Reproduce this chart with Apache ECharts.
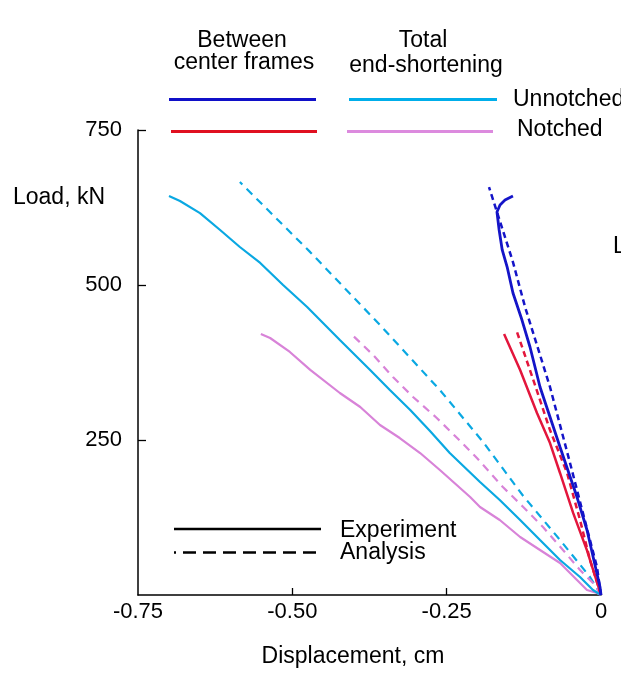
<!DOCTYPE html>
<html>
<head>
<meta charset="utf-8">
<script src="https://cdn.jsdelivr.net/npm/echarts@6/dist/echarts.min.js"></script>
<style>
  html, body { margin: 0; padding: 0; background: #fff; }
  #chart { width: 621px; height: 673px; }
</style>
</head>
<body>
<div id="chart"></div>
<script>
// displacement (cm), load (kN) pairs
const centerUnnotchedExp = [
  [0, 0], [-0.0016, 13], [-0.0227, 104.8], [-0.0389, 158], [-0.0664, 238.7],
  [-0.0988, 335.5], [-0.115, 400], [-0.128, 443.5], [-0.1426, 487], [-0.152, 529],
  [-0.160, 556.5], [-0.165, 588.7], [-0.1685, 617.7], [-0.1636, 629], [-0.1555, 637],
  [-0.1426, 643.5]
];
const centerUnnotchedAna = [
  [0, 0], [-0.0065, 45], [-0.0292, 132], [-0.0502, 213], [-0.0826, 335.5],
  [-0.123, 464.5], [-0.1426, 537], [-0.1814, 658]
];
const centerNotchedExp = [
  [0, 0], [-0.0227, 72], [-0.045, 132], [-0.0664, 196.8], [-0.0826, 245],
  [-0.1037, 293.5], [-0.131, 363], [-0.157, 421]
];
const centerNotchedAna = [
  [0, 0], [-0.0178, 56.5], [-0.034, 121], [-0.055, 197], [-0.0826, 266],
  [-0.107, 339], [-0.136, 424]
];
const totalUnnotchedExp = [
  [0, 0], [-0.013, 8], [-0.034, 29], [-0.0664, 56.5], [-0.0988, 88.7], [-0.131, 121],
  [-0.164, 153.2], [-0.196, 182.3], [-0.245, 229], [-0.277, 264.5], [-0.309, 298.4],
  [-0.342, 330.6], [-0.374, 362.9], [-0.423, 411.3], [-0.476, 464.5], [-0.515, 500],
  [-0.552, 535.5], [-0.585, 561.3], [-0.617, 588.7], [-0.6496, 616], [-0.682, 635.5],
  [-0.6998, 643.5]
];
const totalUnnotchedAna = [
  [0, 0], [-0.0178, 29], [-0.0664, 88.7], [-0.126, 159.7], [-0.191, 246.8],
  [-0.261, 330.6], [-0.358, 435.5], [-0.471, 553], [-0.585, 666]
];
const totalNotchedExp = [
  [0, 0], [-0.0065, 3.2], [-0.0227, 8], [-0.0389, 24.2], [-0.0664, 51.6], [-0.0988, 72.6],
  [-0.131, 93.5], [-0.164, 121], [-0.196, 142], [-0.212, 158], [-0.261, 201.6],
  [-0.293, 229], [-0.326, 253.2], [-0.358, 274.2], [-0.390, 303.2], [-0.423, 325.8],
  [-0.471, 363], [-0.504, 392], [-0.536, 414.5], [-0.551, 421]
];
const totalNotchedAna = [
  [0, 0], [-0.013, 19.4], [-0.034, 40.3], [-0.0616, 72.6], [-0.094, 109.7], [-0.126, 142],
  [-0.159, 174.2], [-0.201, 221], [-0.233, 253.2], [-0.266, 285.5], [-0.3045, 319.4],
  [-0.337, 351.6], [-0.369, 387], [-0.403, 419.4]
];
const xTicks = [-0.75, -0.5, -0.25, 0];
const yTicks = [250, 500, 750];

const BLUE = '#1414c8';
const CYAN = '#0aa8e2';
const RED = '#e3163c';
const ORCHID = '#d883d8';
const FONT = 'Liberation Sans, Arial, sans-serif';

const chart = echarts.init(document.getElementById('chart'));

function line(name, data, color, width, dash) {
  return {
    name: name,
    type: 'line',
    data: data,
    showSymbol: false,
    silent: true,
    lineStyle: { color: color, width: width, type: dash || 'solid' }
  };
}

function txt(text, x, y, align) {
  return {
    type: 'text', x: x, y: y,
    style: { text: text, font: '23px ' + FONT, fill: '#000', align: align || 'left', verticalAlign: 'middle' }
  };
}

function swatch(x1, x2, y, color, width, dash, offset) {
  return {
    type: 'line',
    shape: { x1: x1, y1: y, x2: x2, y2: y },
    style: { stroke: color, lineWidth: width, lineDash: dash || null, lineDashOffset: offset || 0 }
  };
}

chart.setOption({
  animation: false,
  grid: { left: 138, right: 20, top: 130, bottom: 78 },
  xAxis: {
    type: 'value',
    min: -0.75,
    max: 0,
    interval: 0.25,
    splitLine: { show: false },
    axisLine: { onZero: false, lineStyle: { color: '#000', width: 1.5 } },
    axisTick: { inside: true, length: 7, customValues: [-0.5, -0.25], lineStyle: { color: '#000', width: 1.3 } },
    axisLabel: {
      customValues: xTicks,
      margin: 6,
      color: '#000',
      fontSize: 22,
      fontFamily: FONT,
      formatter: function (v) { return v === 0 ? '0' : v.toFixed(2); }
    }
  },
  yAxis: {
    type: 'value',
    min: 0,
    max: 750,
    interval: 250,
    splitLine: { show: false },
    axisLine: { onZero: false, lineStyle: { color: '#000', width: 1.5 } },
    axisTick: { inside: true, length: 8, customValues: yTicks, lineStyle: { color: '#000', width: 1.3 } },
    axisLabel: {
      customValues: yTicks,
      margin: 16,
      color: '#000',
      fontSize: 22,
      fontFamily: FONT
    }
  },
  series: [
    line('Total unnotched analysis', totalUnnotchedAna, CYAN, 2.2, [8, 6]),
    line('Total notched analysis', totalNotchedAna, ORCHID, 2.2, [8, 6]),
    line('Total notched', totalNotchedExp, ORCHID, 2.2),
    line('Total unnotched', totalUnnotchedExp, CYAN, 2.2),
    line('Center notched analysis', centerNotchedAna, RED, 2.5, [6, 4]),
    line('Center notched', centerNotchedExp, RED, 2.5),
    line('Center unnotched analysis', centerUnnotchedAna, BLUE, 2.5, [6, 4]),
    line('Center unnotched', centerUnnotchedExp, BLUE, 2.8)
  ],
  graphic: [
    txt('Between', 242, 41, 'center'),
    txt('center frames', 244, 63, 'center'),
    txt('Total', 423, 41, 'center'),
    txt('end-shortening', 426, 66, 'center'),
    swatch(169, 316, 99.5, '#1010c8', 3),
    swatch(349, 497, 99.5, '#00aeea', 3),
    swatch(171, 317, 131.5, '#e01020', 3),
    swatch(347, 493, 131.5, '#dc8ade', 3),
    txt('Unnotched', 513, 100),
    txt('Notched', 517, 130),
    txt('L', 613, 247),
    txt('Load, kN', 13, 198),
    swatch(174, 321, 529, '#000', 2.6),
    swatch(174, 321, 552.5, '#000', 2.6, [13, 7], 11),
    txt('Experiment', 340, 531),
    txt('Analysis', 340, 553),
    txt('Displacement, cm', 353, 657, 'center')
  ]
});
</script>
</body>
</html>
